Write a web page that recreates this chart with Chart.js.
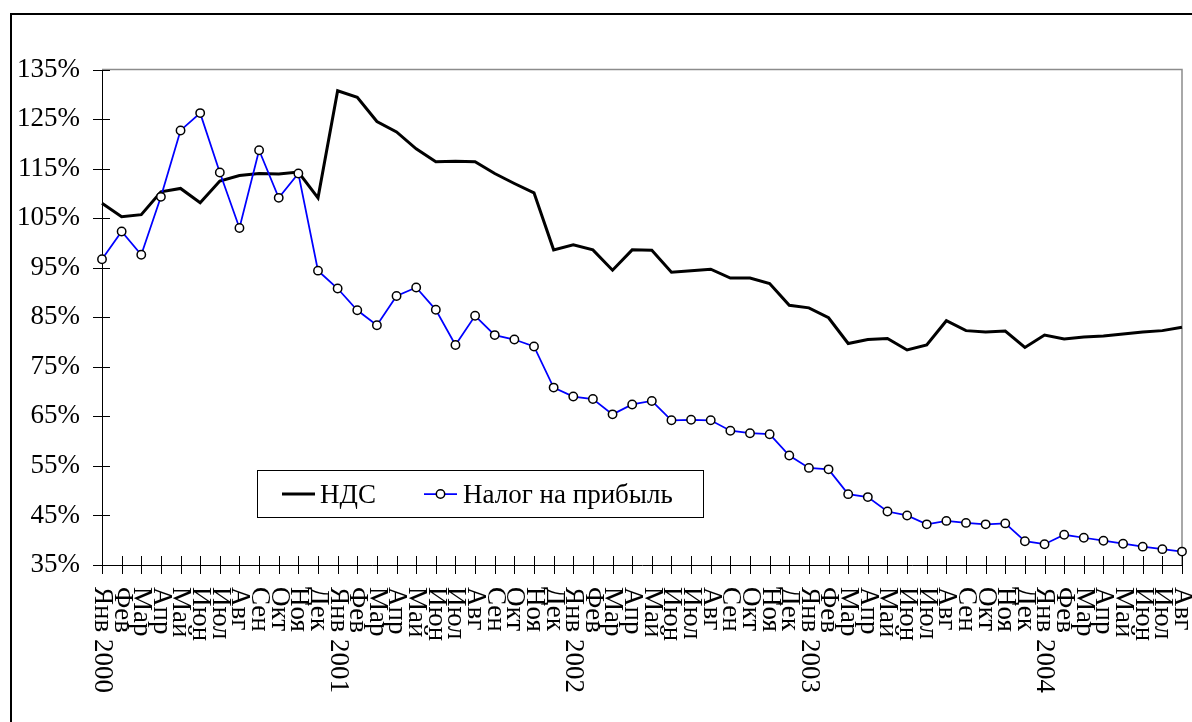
<!DOCTYPE html>
<html>
<head>
<meta charset="utf-8">
<script src="https://cdn.jsdelivr.net/npm/chart.js@4/dist/chart.umd.min.js"></script>
<style>
  body { margin: 0; background: #fff; }
  #wrap { width: 1192px; height: 722px; position: relative; }
</style>
</head>
<body>
<div id="wrap"><canvas id="taxChart" width="1192" height="722"></canvas></div>
<script>
// месяцы 2000 - авг 2004
const months = [
    'Янв 2000', 'Фев', 'Мар', 'Апр', 'Май', 'Июн', 'Июл', 'Авг', 'Сен', 'Окт', 'Ноя', 'Дек',
    'Янв 2001', 'Фев', 'Мар', 'Апр', 'Май', 'Июн', 'Июл', 'Авг', 'Сен', 'Окт', 'Ноя', 'Дек',
    'Янв 2002', 'Фев', 'Мар', 'Апр', 'Май', 'Июн', 'Июл', 'Авг', 'Сен', 'Окт', 'Ноя', 'Дек',
    'Янв 2003', 'Фев', 'Мар', 'Апр', 'Май', 'Июн', 'Июл', 'Авг', 'Сен', 'Окт', 'Ноя', 'Дек',
    'Янв 2004', 'Фев', 'Мар', 'Апр', 'Май', 'Июн', 'Июл', 'Авг'
];

const nds = [
    108.0, 105.3, 105.7, 110.3, 111.0, 108.1, 112.5, 113.6, 114.0, 113.9, 114.3, 109.1,
    130.7, 129.4, 124.5, 122.4, 119.0, 116.4, 116.5, 116.4, 114.0, 112.0, 110.1, 98.6,
    99.6, 98.6, 94.5, 98.6, 98.5, 94.1, 94.4, 94.7, 92.9, 92.9, 91.8, 87.4,
    86.9, 84.9, 79.7, 80.5, 80.7, 78.4, 79.4, 84.3, 82.3, 82.0, 82.2, 78.9,
    81.4, 80.6, 81.0, 81.2, 81.6, 82.0, 82.3, 83.0
];

const profitTax = [
    96.7, 102.3, 97.6, 109.3, 122.7, 126.2, 114.2, 103.0, 118.7, 109.1, 114.0, 94.4,
    90.8, 86.4, 83.4, 89.3, 91.0, 86.5, 79.4, 85.3, 81.4, 80.5, 79.1, 70.8,
    69.0, 68.5, 65.4, 67.4, 68.1, 64.2, 64.3, 64.2, 62.1, 61.6, 61.4, 57.1,
    54.6, 54.3, 49.3, 48.7, 45.8, 45.0, 43.2, 43.9, 43.5, 43.2, 43.4, 39.8,
    39.2, 41.1, 40.5, 39.9, 39.3, 38.7, 38.2, 37.7
];

const yMin = 35, yMax = 135, yStep = 10;
const seriesNames = ['НДС', 'Налог на прибыль'];

const FONT = '27px "Liberation Serif", "Times New Roman", serif';

const decorPlugin = {
    id: 'decor',
    beforeDraw(chart) {
        const ctx = chart.ctx;
        ctx.save();
        ctx.fillStyle = '#fff';
        ctx.fillRect(0, 0, chart.width, chart.height);
        // внешняя рамка
        ctx.strokeStyle = '#000';
        ctx.lineWidth = 2;
        ctx.strokeRect(11, 14, chart.width + 20, chart.height + 20);
        ctx.restore();
    },
    beforeDatasetsDraw(chart) {
        const ctx = chart.ctx;
        const a = chart.chartArea;
        const x = chart.scales.x, y = chart.scales.y;
        ctx.save();
        // верх и правая сторона области построения
        ctx.strokeStyle = '#8c8c8c';
        ctx.lineWidth = 1.5;
        ctx.beginPath();
        ctx.moveTo(a.left, a.top);
        ctx.lineTo(a.right, a.top);
        ctx.lineTo(a.right, a.bottom);
        ctx.stroke();

        ctx.strokeStyle = '#000';
        ctx.lineWidth = 1;
        ctx.beginPath();
        y.ticks.forEach((t, i) => {
            const py = Math.round(y.getPixelForTick(i)) + 0.5;
            ctx.moveTo(a.left - 9, py);
            ctx.lineTo(a.left + 8, py);
        });
        months.forEach((m, i) => {
            const px = Math.round(x.getPixelForValue(i)) + 0.5;
            ctx.moveTo(px, a.bottom - 9);
            ctx.lineTo(px, a.bottom + 9);
        });
        ctx.stroke();
        ctx.restore();
    },
    afterDraw(chart) {
        const ctx = chart.ctx;
        const a = chart.chartArea;
        const x = chart.scales.x;
        ctx.save();
        ctx.font = FONT;
        ctx.fillStyle = '#000';
        // подписи месяцев, повернутые сверху вниз
        months.forEach((m, i) => {
            const px = x.getPixelForValue(i);
            ctx.save();
            ctx.translate(px, a.bottom + 22);
            ctx.rotate(Math.PI / 2);
            ctx.textAlign = 'left';
            ctx.textBaseline = 'middle';
            ctx.fillText(m, 0, 0);
            ctx.restore();
        });

        // легенда
        const ds = chart.data.datasets;
        ctx.strokeStyle = '#000';
        ctx.lineWidth = 1;
        ctx.strokeRect(257.5, 470.5, 446, 47);
        const ly = 494;
        ctx.strokeStyle = ds[0].borderColor;
        ctx.lineWidth = ds[0].borderWidth;
        ctx.beginPath();
        ctx.moveTo(282, ly);
        ctx.lineTo(315, ly);
        ctx.stroke();

        ctx.strokeStyle = ds[1].borderColor;
        ctx.lineWidth = ds[1].borderWidth;
        ctx.beginPath();
        ctx.moveTo(424, ly);
        ctx.lineTo(457, ly);
        ctx.stroke();
        ctx.beginPath();
        ctx.arc(440.5, ly, ds[1].pointRadius, 0, Math.PI * 2);
        ctx.fillStyle = ds[1].pointBackgroundColor;
        ctx.fill();
        ctx.strokeStyle = ds[1].pointBorderColor;
        ctx.lineWidth = ds[1].pointBorderWidth;
        ctx.stroke();

        ctx.fillStyle = '#000';
        ctx.textAlign = 'left';
        ctx.textBaseline = 'alphabetic';
        ctx.fillText(ds[0].label, 320, 503);
        ctx.fillText(ds[1].label, 463, 503);
        ctx.restore();
    }
};

const ctx = document.getElementById('taxChart').getContext('2d');
const taxChart = new Chart(ctx, {
    type: 'line',
    data: {
        labels: months,
        datasets: [{
            label: seriesNames[0],
            data: nds,
            borderColor: '#000',
            borderWidth: 3,
            pointRadius: 0,
            pointHoverRadius: 0,
            tension: 0,
            clip: false,
            order: 2
        }, {
            label: seriesNames[1],
            data: profitTax,
            borderColor: '#0000ff',
            borderWidth: 1.75,
            pointRadius: 4.2,
            pointBackgroundColor: '#fff',
            pointBorderColor: '#000',
            pointBorderWidth: 1.5,
            tension: 0,
            clip: false,
            order: 1
        }]
    },
    options: {
        responsive: false,
        animation: false,
        events: [],
        layout: {
            padding: { left: 10, right: 10, top: 69.5, bottom: 0 }
        },
        plugins: {
            legend: { display: false },
            tooltip: { enabled: false }
        },
        scales: {
            x: {
                type: 'category',
                offset: false,
                grid: { display: false, drawTicks: false },
                border: { display: true, color: '#000', width: 1 },
                ticks: { display: false },
                afterFit: function(scale) { scale.height = 157; }
            },
            y: {
                min: yMin,
                max: yMax,
                grid: { display: false, drawTicks: false },
                border: { display: true, color: '#000', width: 1 },
                ticks: {
                    stepSize: yStep,
                    color: '#000',
                    padding: 22,
                    font: { family: '"Liberation Serif", "Times New Roman", serif', size: 27 },
                    callback: v => v + '%'
                },
                afterFit: function(scale) { scale.width = 92; }
            }
        }
    },
    plugins: [decorPlugin]
});
</script>
</body>
</html>
